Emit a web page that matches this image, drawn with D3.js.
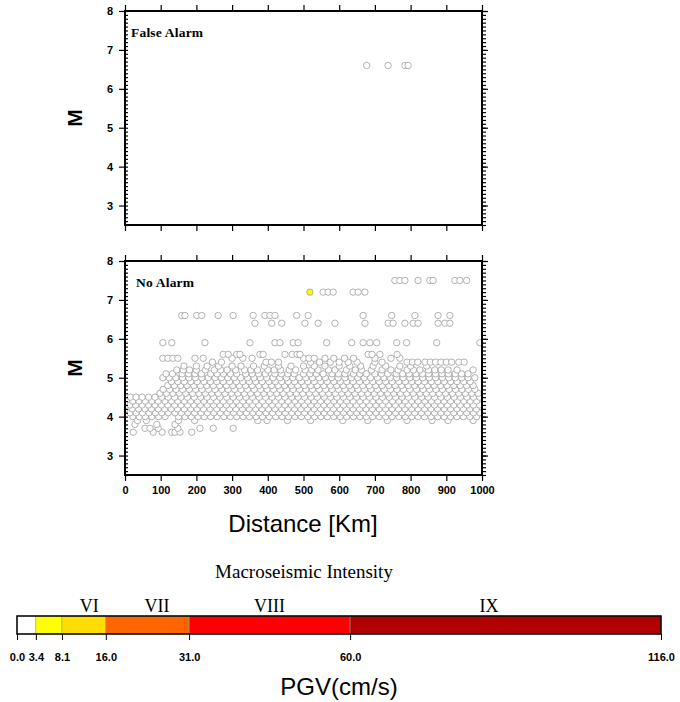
<!DOCTYPE html>
<html>
<head>
<meta charset="utf-8">
<script src="https://cdn.jsdelivr.net/npm/d3@7"></script>
<style>
  body { margin: 0; background: #fff; }
  svg { display: block; }
</style>
</head>
<body>
<div id="chart"></div>
<script>
// Alarm scatter (M vs distance) + PGV colour bar

const distTicks = [0, 100, 200, 300, 400, 500, 600, 700, 800, 900, 1000];
const magTicks = [3, 4, 5, 6, 7, 8];

const pgvBreaks = [0, 3.4, 8.1, 16, 31, 60, 116];
const pgvLabels = ['0.0', '3.4', '8.1', '16.0', '31.0', '60.0', '116.0'];
const pgvColors = ['#ffffff', '#ffff00', '#ffdd00', '#ff6600', '#ff0000', '#b00000'];
const intensityLabels = ['VI', 'VII', 'VIII', 'IX'];
const intensityAt = [13, 25.2, 45.5, 85];

// False Alarm panel
const falseAlarmD = [677, 737, 784, 793];
const falseAlarmM = [6.6, 6.6, 6.6, 6.6];

// No Alarm panel: the one coloured event
const hitD = [518];
const hitM = [7.2];
const hitPGV = [5.0];

// No Alarm panel: remaining events, one distance list per magnitude row
const rowM = [3.6, 3.7, 3.8, 3.9, 4.0, 4.1, 4.2, 4.3, 4.4, 4.5, 4.6, 4.7, 4.8, 4.9,
              5.0, 5.1, 5.2, 5.3, 5.4, 5.5, 5.6, 5.9, 6.4, 6.6, 7.2, 7.5];
const rowD = [
  [23, 79, 104, 131, 140, 154, 187],
  [56, 70, 93, 148, 210, 247, 303],
  [28, 89, 140],
  [35, 60, 150, 195, 372, 398, 455, 520, 610, 680, 735, 790, 860, 905, 975],
  [22, 40, 57, 75, 94, 112, 150, 168, 186, 205, 222, 240, 258, 277, 295, 313, 331, 349, 367, 385, 404, 422, 440, 458, 476, 494, 512, 531, 549, 567, 585, 603, 621, 640, 658, 676, 694, 712, 730, 748, 767, 785, 803, 821, 839, 857, 876, 894, 912, 930, 948, 966, 985],
  [14, 31, 49, 67, 85, 103, 121, 140, 158, 176, 195, 213, 231, 249, 267, 286, 304, 322, 340, 358, 376, 395, 413, 431, 449, 467, 485, 503, 522, 540, 558, 576, 594, 612, 631, 649, 667, 685, 703, 721, 739, 758, 776, 794, 812, 830, 848, 867, 885, 903, 921, 939, 957, 976, 994],
  [20, 38, 56, 74, 93, 111, 129, 147, 166, 184, 202, 220, 238, 257, 275, 293, 311, 329, 348, 366, 384, 402, 420, 439, 457, 475, 493, 511, 530, 548, 566, 584, 602, 621, 639, 657, 675, 693, 712, 730, 748, 766, 784, 803, 821, 839, 857, 875, 894, 912, 930, 948, 966, 984],
  [14, 30, 48, 66, 84, 102, 120, 139, 157, 175, 193, 211, 230, 248, 266, 284, 302, 321, 339, 357, 375, 393, 412, 430, 448, 466, 484, 503, 521, 539, 557, 575, 594, 612, 630, 648, 666, 685, 703, 721, 739, 757, 776, 794, 812, 830, 848, 867, 885, 903, 921, 939, 958, 976, 993],
  [22, 39, 57, 75, 93, 112, 130, 148, 166, 184, 203, 221, 239, 257, 275, 294, 312, 330, 348, 366, 385, 403, 421, 439, 457, 476, 494, 512, 530, 548, 567, 585, 603, 621, 639, 658, 676, 694, 712, 730, 749, 767, 785, 803, 821, 840, 858, 876, 894, 912, 931, 949, 967, 985],
  [15, 31, 48, 66, 84, 103, 121, 139, 157, 175, 194, 212, 230, 248, 266, 285, 303, 321, 339, 357, 376, 394, 412, 430, 448, 467, 485, 503, 521, 539, 558, 576, 594, 612, 630, 649, 667, 685, 703, 721, 740, 758, 776, 794, 812, 831, 849, 867, 885, 903, 922, 940, 958, 976, 994],
  [98, 116, 134, 152, 170, 189, 207, 225, 243, 261, 280, 298, 316, 334, 352, 371, 389, 407, 425, 443, 462, 480, 498, 516, 534, 553, 571, 589, 607, 625, 644, 662, 680, 698, 716, 735, 753, 771, 789, 807, 826, 844, 862, 880, 898, 917, 935, 953, 971, 989],
  [107, 125, 143, 161, 180, 198, 216, 234, 252, 271, 289, 307, 325, 343, 362, 380, 398, 416, 434, 453, 471, 489, 507, 525, 544, 562, 580, 598, 616, 635, 653, 671, 689, 707, 726, 744, 762, 780, 798, 817, 835, 853, 871, 889, 908, 926, 944, 962, 980],
  [120, 138, 156, 174, 193, 211, 229, 247, 265, 284, 302, 320, 338, 356, 375, 393, 411, 429, 447, 466, 484, 502, 520, 538, 557, 575, 593, 611, 629, 648, 666, 684, 702, 720, 739, 757, 775, 793, 811, 830, 848, 866, 884, 902, 921, 939, 957, 975],
  [130, 148, 166, 184, 202, 221, 239, 257, 275, 293, 312, 330, 348, 366, 384, 403, 421, 439, 457, 475, 494, 512, 530, 548, 566, 585, 603, 621, 639, 657, 676, 694, 712, 730, 748, 767, 785, 803, 821, 839, 858, 876, 894, 912, 930, 949, 967],
  [106, 124, 142, 161, 179, 197, 215, 233, 252, 270, 288, 306, 324, 343, 361, 379, 397, 415, 434, 452, 470, 488, 506, 525, 543, 561, 579, 597, 616, 634, 652, 670, 688, 707, 725, 743, 761, 779, 798, 816, 834, 852, 870, 889, 907, 925, 943, 961, 980],
  [115, 133, 160, 178, 196, 214, 240, 258, 276, 295, 313, 338, 356, 374, 393, 420, 438, 456, 474, 500, 518, 536, 555, 580, 598, 616, 640, 658, 676, 700, 718, 736, 760, 778, 796, 815, 833, 851, 870, 888, 906, 925, 943, 961],
  [145, 163, 181, 200, 225, 250, 268, 286, 310, 335, 353, 371, 400, 418, 436, 460, 478, 505, 523, 541, 570, 588, 620, 645, 663, 690, 720, 745, 765, 790, 808, 826, 850, 868, 886, 905, 930, 975],
  [165, 200, 230, 262, 300, 325, 360, 390, 430, 465, 500, 530, 560, 600, 630, 660, 695, 730, 770, 800, 845],
  [245, 270, 395, 410, 430, 520, 545, 575, 600, 625, 650, 700, 720, 790, 805, 820, 840, 855, 870, 885, 900, 915, 935, 950],
  [106, 120, 134, 148, 196, 219, 300, 330, 356, 500, 515, 530, 560, 585, 615, 640, 700, 745, 770],
  [275, 289, 313, 322, 378, 387, 448, 468, 482, 490, 681, 692, 714, 762],
  [106, 131, 224, 350, 420, 434, 471, 485, 565, 635, 667, 686, 705, 761, 789, 873, 994],
  [364, 411, 439, 504, 541, 588, 672, 737, 751, 784, 807, 821, 877, 896, 910],
  [159, 168, 201, 215, 261, 303, 359, 392, 406, 420, 481, 513, 667, 747, 812, 877, 910],
  [555, 569, 583, 639, 653, 672],
  [756, 770, 784, 821, 854, 863, 924, 938, 957]
];

const W = 680, H = 702;
const svg = d3.select('#chart').append('svg')
  .attr('width', W)
  .attr('height', H);

const x = d3.scaleLinear().domain([0, 1000]).range([125, 482]);
const pgvColor = d3.scaleThreshold()
  .domain(pgvBreaks.slice(1, -1))
  .range(pgvColors);

const sansB = 'Liberation Sans, Arial, Helvetica, sans-serif';
const serif = 'Liberation Serif, Times New Roman, serif';

function drawPanel(top, bottom, label, labelDx, points, withXLabels) {
  const y = d3.scaleLinear().domain([2.5, 8]).range([bottom, top]);
  const g = svg.append('g');
  const minor = d3.range(25, 81).map(d => d / 10);

  // points
  g.append('g').selectAll('circle')
    .data(points)
    .enter()
    .append('circle')
    .attr('cx', d => x(d.d))
    .attr('cy', d => y(d.m))
    .attr('r', 3.2)
    .attr('fill', d => pgvColor(d.pgv))
    .attr('stroke', '#9e9e9e')
    .attr('stroke-width', 0.8);

  // axes
  g.append('g').attr('transform', `translate(${x(0)},0)`)
    .call(d3.axisLeft(y).tickValues(magTicks).tickSize(6).tickPadding(6).tickFormat(d3.format('d')));
  g.append('g').attr('transform', `translate(${x(0)},0)`)
    .call(d3.axisLeft(y).tickValues(minor).tickSize(-3).tickFormat(''));
  g.append('g').attr('transform', `translate(${x(1000)},0)`)
    .call(d3.axisRight(y).tickValues(magTicks).tickSize(6).tickFormat(''));
  g.append('g').attr('transform', `translate(${x(1000)},0)`)
    .call(d3.axisRight(y).tickValues(minor).tickSize(4).tickFormat(''));
  g.append('g').attr('transform', `translate(0,${top})`)
    .call(d3.axisTop(x).tickValues(distTicks).tickSize(6).tickFormat(''));
  g.append('g').attr('transform', `translate(0,${bottom})`)
    .call(d3.axisBottom(x).tickValues(distTicks).tickSize(6).tickPadding(5)
      .tickFormat(withXLabels ? d3.format('d') : ''));

  g.selectAll('.domain').remove();
  g.selectAll('.tick line').attr('stroke', '#000').attr('stroke-width', 1.2);
  g.selectAll('.tick text')
    .attr('font-family', sansB)
    .attr('font-weight', 'bold')
    .attr('font-size', 11)
    .attr('fill', '#000');

  g.append('rect')
    .attr('x', x(0)).attr('y', top)
    .attr('width', x(1000) - x(0)).attr('height', bottom - top)
    .attr('fill', 'none')
    .attr('stroke', '#000')
    .attr('stroke-width', 2);

  g.append('text')
    .attr('x', x(0) + labelDx).attr('y', top + 26)
    .attr('font-family', serif)
    .attr('font-weight', 'bold')
    .attr('font-size', 13.5)
    .attr('letter-spacing', 0.2)
    .text(label);

  g.append('text')
    .attr('transform', `translate(${x(0) - 43},${(top + bottom) / 2}) rotate(-90)`)
    .attr('text-anchor', 'middle')
    .attr('font-family', sansB)
    .attr('font-weight', 'bold')
    .attr('font-size', 21)
    .text('M');
}

const falsePts = falseAlarmD.map((d, i) => ({ d: d, m: falseAlarmM[i], pgv: 0 }));
const noPts = [];
rowD.forEach((list, i) => list.forEach(d => noPts.push({ d: d, m: rowM[i], pgv: 0 })));
hitD.forEach((d, i) => noPts.push({ d: d, m: hitM[i], pgv: hitPGV[i] }));

drawPanel(11, 225, 'False Alarm', 6, falsePts, false);
drawPanel(261, 475, 'No Alarm', 11, noPts, true);

svg.append('text')
  .attr('x', 303).attr('y', 532)
  .attr('text-anchor', 'middle')
  .attr('font-family', sansB)
  .attr('font-size', 24)
  .text('Distance [Km]');

// colour bar
const c = d3.scaleLinear().domain([0, 116]).range([17, 661]);
const barTop = 616, barBot = 634;
const cb = svg.append('g');

cb.append('text')
  .attr('x', 304).attr('y', 578)
  .attr('text-anchor', 'middle')
  .attr('font-family', serif)
  .attr('font-size', 19)
  .text('Macroseismic Intensity');

cb.selectAll('.seg')
  .data(pgvColors)
  .enter()
  .append('rect')
  .attr('x', (d, i) => c(pgvBreaks[i]))
  .attr('y', barTop)
  .attr('width', (d, i) => c(pgvBreaks[i + 1]) - c(pgvBreaks[i]))
  .attr('height', barBot - barTop)
  .attr('fill', d => d)
  .attr('stroke', '#999')
  .attr('stroke-width', 0.5);

cb.append('rect')
  .attr('x', c(0)).attr('y', barTop)
  .attr('width', c(116) - c(0)).attr('height', barBot - barTop)
  .attr('fill', 'none')
  .attr('stroke', '#000')
  .attr('stroke-width', 1.5);

cb.selectAll('.roman')
  .data(intensityLabels)
  .enter()
  .append('text')
  .attr('x', (d, i) => c(intensityAt[i]))
  .attr('y', 612)
  .attr('text-anchor', 'middle')
  .attr('font-family', serif)
  .attr('font-size', 18)
  .text(d => d);

cb.append('g')
  .attr('transform', `translate(0,${barBot})`)
  .call(d3.axisBottom(c).tickValues(pgvBreaks).tickSize(6).tickPadding(13)
    .tickFormat((d, i) => pgvLabels[i]))
  .call(s => s.select('.domain').remove())
  .call(s => s.selectAll('.tick line').attr('stroke', '#000'))
  .call(s => s.selectAll('.tick text')
    .attr('font-family', sansB)
    .attr('font-weight', 'bold')
    .attr('font-size', 11)
    .attr('fill', '#000'));

svg.append('text')
  .attr('x', 339).attr('y', 695)
  .attr('text-anchor', 'middle')
  .attr('font-family', sansB)
  .attr('font-size', 24)
  .text('PGV(cm/s)');
</script>
</body>
</html>
